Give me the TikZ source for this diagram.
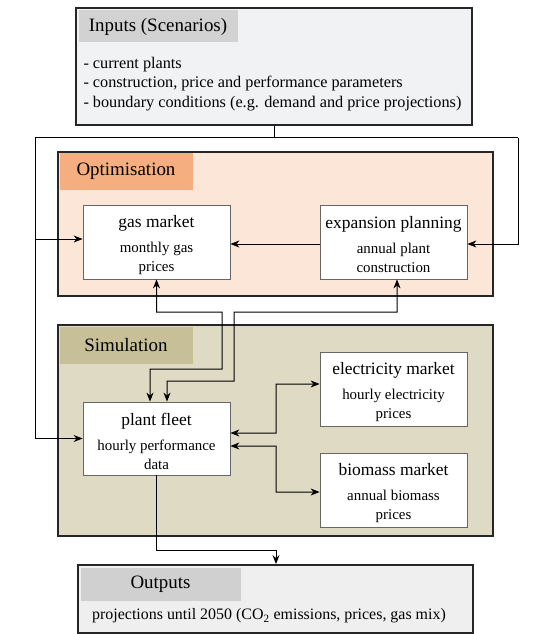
\documentclass[tikz,border=0pt]{standalone}
\usepackage{fontspec}
\setmainfont{Liberation Serif}
\usetikzlibrary{arrows.meta}

\definecolor{inputfill}{HTML}{F1F2F4}
\definecolor{inputhead}{HTML}{D2D2D2}
\definecolor{optfill}{HTML}{FCE6D8}
\definecolor{opthead}{HTML}{F4AE80}
\definecolor{simfill}{HTML}{DEDAC4}
\definecolor{simhead}{HTML}{C6BF98}
\definecolor{outfill}{HTML}{EFEFEF}
\definecolor{outhead}{HTML}{D0D0D0}

\newcommand{\boxtitle}[1]{{\fontsize{17.5}{20}\selectfont\rule{0pt}{18bp}#1}\\[6bp]}

\begin{document}
\begin{tikzpicture}
	[x=1bp, y=-1bp, line width=1bp, >={Stealth[length=9bp, width=7bp]},
	panel/.style={draw=black!85, line width=1.8bp, inner sep=0pt},
	head/.style={anchor=north west, inner sep=0pt, font=\fontsize{19}{22}\selectfont},
	unit/.style={draw=black!60, line width=0.8bp, fill=white, minimum width=147bp, minimum height=74bp,
		inner sep=0pt, align=center, font=\fontsize{15}{19}\selectfont}]
	\useasboundingbox (0,0) rectangle (537,634);

	\node[panel, fill=inputfill, minimum width=396bp, minimum height=117bp] (inputs) at (274,66.5) {};
	\node[head, fill=inputhead, minimum width=159bp, minimum height=32bp] (inhead) at (78,10) {Inputs (Scenarios)};
	\node[anchor=north west, inner sep=0pt, align=left, font=\fontsize{16.3}{19.5}\selectfont] (inlist) at (83,56.5)
		{- current plants\\- construction, price and performance parameters\\- boundary conditions (e.g. demand and price projections)};

	\node[panel, fill=optfill, minimum width=435bp, minimum height=144bp] (opt) at (275.5,224) {};
	\node[head, fill=opthead, minimum width=133bp, minimum height=36bp] (opthead) at (59,153) {Optimisation};
	\node[unit] (gas) at (156.5,242) {\boxtitle{gas market}monthly gas\\prices};
	\node[unit] (exp) at (393.5,242) {\boxtitle{expansion planning}annual plant\\construction};

	\node[panel, fill=simfill, minimum width=435bp, minimum height=211bp] (sim) at (275.5,430.5) {};
	\node[head, fill=simhead, minimum width=133bp, minimum height=37bp] (simhead) at (59,326) {Simulation};
	\node[unit, minimum height=73bp] (fleet) at (156.5,438.5) {\boxtitle{plant fleet}hourly performance\\data};
	\node[unit] (elec) at (393.5,389) {\boxtitle{electricity market}hourly electricity\\prices};
	\node[unit] (bio) at (393.5,490) {\boxtitle{biomass market}annual biomass\\prices};

	\node[panel, fill=outfill, minimum width=395bp, minimum height=68bp] (out) at (275.5,599) {};
	\node[head, fill=outhead, minimum width=160bp, minimum height=33bp] (outhead) at (80,567) {Outputs};
	\node[font=\fontsize{16}{19}\selectfont] (outtext) at (269,616)
		{projections until 2050 (CO\textsubscript{2} emissions, prices, gas mix)};

	\coordinate (railL) at (35,138);
	\coordinate (railR) at (518,138);
	\coordinate (outbend) at (276,550);
	\draw (inputs.south) -- (inputs.south |- railL);
	\draw (railL) -- (railR);
	\draw[->] (railL) |- ([yshift=3bp]gas.west);
	\draw[->] (railL) |- (fleet.west);
	\draw[->] (railR) |- ([yshift=-2bp]exp.east);
	\draw[->] ([yshift=-2bp]exp.west) -- ([yshift=-2bp]gas.east);
	\draw[<->] (gas.south) |- (222,312) |- (150,369) -- ([xshift=-6.5bp]fleet.north);
	\draw[<->] ([xshift=3.5bp]exp.south) |- (234,312) |- (167,381) -- ([xshift=10.5bp]fleet.north);
	\draw[<->] ([yshift=5.5bp]fleet.east) -| (276,384) -- ([yshift=5bp]elec.west);
	\draw[<->] ([yshift=-7.5bp]fleet.east) -| (276,492) -- ([yshift=-2bp]bio.west);
	\draw[->] (fleet.south) |- (outbend) -- (outbend |- out.north);
\end{tikzpicture}
\end{document}
